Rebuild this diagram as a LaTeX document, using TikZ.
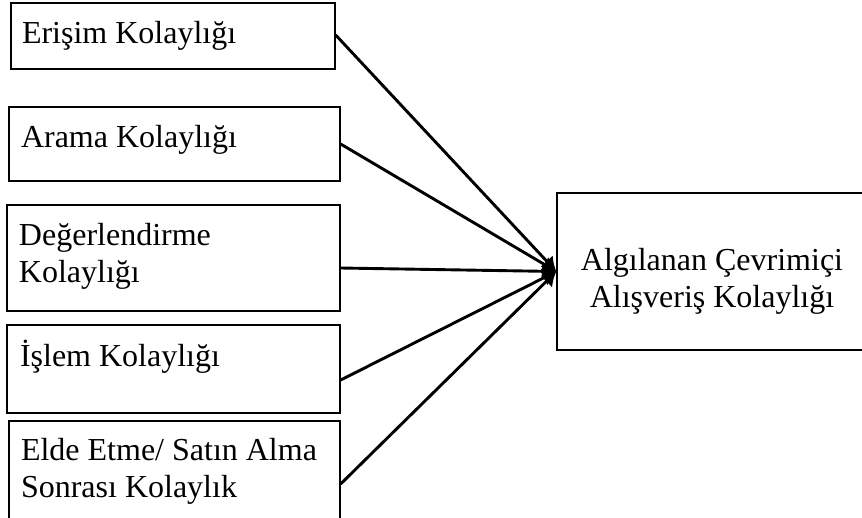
\documentclass[tikz,border=0pt]{standalone}
\usepackage{fontspec}
\setmainfont{Liberation Serif}
\usetikzlibrary{arrows.meta}
\tikzset{
  box/.style={draw=black, line width=1.3pt, rectangle, inner sep=0pt},
  lbl/.style={inner sep=0pt, outer sep=0pt, anchor=base west, align=left, font=\fontsize{32}{37}\selectfont},
  rlbl/.style={inner sep=0pt, outer sep=0pt, anchor=base, align=center, font=\fontsize{32}{37}\selectfont},
  conn/.style={line width=2.9pt, -{Latex[length=14pt,width=17pt]}}
}
\begin{document}
\begin{tikzpicture}[x=1pt,y=-1pt]
\useasboundingbox (0,0) rectangle (862,517);
\clip (0,0) rectangle (862,517);
\node[box, minimum width=324pt, minimum height=66pt] (b1) at (173,36) {};
\node[box, minimum width=331pt, minimum height=74pt] (b2) at (174.5,144) {};
\node[box, minimum width=333pt, minimum height=106pt] (b3) at (173.5,258) {};
\node[box, minimum width=333pt, minimum height=88pt] (b4) at (173.5,369) {};
\node[box, minimum width=331pt, minimum height=110pt] (b5) at (174.5,476) {};
\node[box, minimum width=330pt, minimum height=157pt] (r) at (722,271.5) {};
\node[lbl] (t1) at (22,43) {Erişim Kolaylığı};
\node[lbl] (t2) at (21,147) {Arama Kolaylığı};
\node[lbl] (t3) at (19,282) {Değerlendirme\\Kolaylığı};
\node[lbl] (t4) at (20,366) {İşlem Kolaylığı};
\node[lbl] (t5) at (21,497) {Elde Etme/ Satın Alma\\Sonrası Kolaylık};
\node[rlbl] (tr) at (712,307) {Algılanan Çevrimiçi\\Alışveriş Kolaylığı};
\draw[conn] ([yshift=1pt]b1.east) -- (r.west);
\draw[conn] (b2.east) -- (r.west);
\draw[conn] ([yshift=-10pt]b3.east) -- (r.west);
\draw[conn] ([yshift=-11pt]b4.east) -- (r.west);
\draw[conn] ([yshift=-8pt]b5.east) -- (r.west);
\end{tikzpicture}
\end{document}
